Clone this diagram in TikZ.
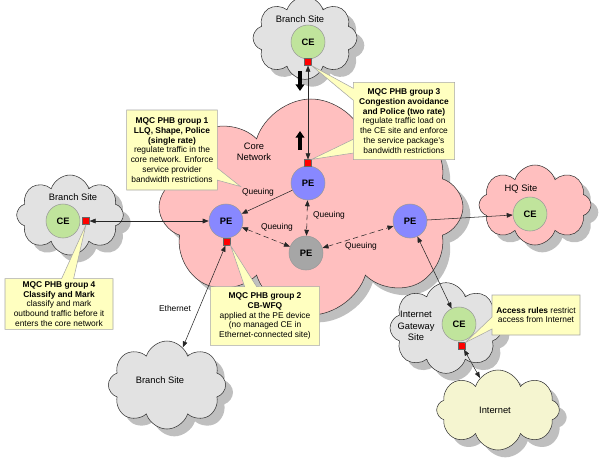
\documentclass[tikz,border=0pt]{standalone}
\usepackage{fontspec}
\setmainfont{Liberation Sans}
\usetikzlibrary{shapes.symbols,shapes.callouts,shadows,arrows.meta}

\definecolor{corepink}{RGB}{255,191,191}
\definecolor{sitegrey}{RGB}{226,226,226}
\definecolor{inetyellow}{RGB}{245,245,208}
\definecolor{noteyellow}{RGB}{255,255,192}
\definecolor{pefill}{RGB}{136,136,255}
\definecolor{cefill}{RGB}{192,228,156}

\tikzset{
  site/.style={cloud, cloud puffs=8, cloud puff arc=145, cloud ignores aspect,
    draw=black!80, fill=sitegrey, inner sep=0pt,
    drop shadow={shadow xshift=5.5pt, shadow yshift=-5.5pt, fill=black!25, opacity=1}},
  pe/.style={circle, draw=black!40, fill=pefill, minimum size=25.5pt,
    inner sep=0pt, font=\fontsize{7}{8}\selectfont\bfseries},
  ce/.style={pe, fill=cefill},
  port/.style={rectangle, draw=black!60, fill=red, minimum size=5pt, inner sep=0pt},
  link/.style={draw=black!85, thin, >={Triangle[length=4.5pt,width=3.5pt]}},
  qlink/.style={link, dash pattern=on 4pt off 2.5pt},
  note/.style={rectangle callout, draw=black!35, fill=noteyellow, align=center,
    inner sep=2pt, callout pointer width=9pt, font=\fontsize{6.3}{7.4}\selectfont},
  lbl/.style={font=\fontsize{7}{8.4}\selectfont, inner sep=1pt, align=center},
  qlbl/.style={font=\fontsize{6.3}{7.4}\selectfont, inner sep=1pt},
  bigarrow/.style={line width=2.4pt, -{Triangle[length=5pt,width=6.5pt]}},
}

\begin{document}
\begin{tikzpicture}[x=0.75pt, y=-0.75pt]
  \useasboundingbox (0,0) rectangle (600,462);

  % sites and core
  \node[site, fill=corepink, minimum width=228pt,
    minimum height=162pt] (core) at (311,207) {};
  \node[site, minimum width=78pt, minimum height=62pt] (topsite) at (305,38) {};
  \node[site, minimum width=80pt, minimum height=60pt] (leftsite) at (70,215) {};
  \node[site, fill=corepink, minimum width=84pt, minimum height=60pt] (hqsite) at (535,205) {};
  \node[site, minimum width=84pt, minimum height=68pt] (igwsite) at (446,328) {};
  \node[site, fill=inetyellow, minimum width=92pt, minimum height=60pt] (inet) at (498,410) {};
  \node[site, minimum width=88pt, minimum height=66pt] (botsite) at (167,385) {};

  \node[lbl] (toplbl) at (300,19) {Branch Site};
  \node[lbl] (leftlbl) at (73,197) {Branch Site};
  \node[lbl] (hqlbl) at (521,189) {HQ Site};
  \node[lbl] (igwlbl) at (416,326) {Internet\\Gateway\\Site};
  \node[lbl] (inetlbl) at (495,410) {Internet};
  \node[lbl] (botlbl) at (160,380) {Branch Site};
  \node[lbl] (corelbl) at (254,152) {Core\\Network};

  % routers
  \node[ce] (cetop) at (308,42) {CE};
  \node[ce] (celeft) at (63,221) {CE};
  \node[ce] (cehq) at (530,214) {CE};
  \node[ce] (ceigw) at (459,324) {CE};

  \node[pe] (pe1) at (308,183) {PE};
  \node[pe] (pe2) at (226,221) {PE};
  \node[pe, fill=black!35] (pe3) at (306,253) {PE};
  \node[pe] (pe4) at (410,221) {PE};

  \node[port] (sqtop) at (308,62) {};
  \node[port] (sqpe1) at (308,163) {};
  \node[port] (sqleft) at (86,221) {};
  \node[port] (sqpe2) at (227,242) {};
  \node[port] (sqigw) at (462,346) {};

  % links
  \draw[link,<->] (sqtop) -- (sqpe1);
  \draw[link,->] (pe1) -- (pe2);
  \draw[link,<->] (sqleft) -- (pe2);
  \draw[qlink,<->] (pe2) -- (pe3);
  \draw[qlink,<->] (pe1) -- (pe3);
  \draw[qlink,<->] (pe3) -- (pe4);
  \draw[link,->] (pe4) -- (cehq);
  \draw[link,<->] (pe4) -- (ceigw);
  \draw[link,<->] (sqigw) -- (inet);
  \draw[link,<->] (sqpe2) -- (botsite);

  \node[qlbl] (q1) at (258,192) {Queuing};
  \node[qlbl] (q2) at (277,227) {Queuing};
  \node[qlbl] (q3) at (329,215) {Queuing};
  \node[qlbl] (q4) at (361,246) {Queuing};
  \node[qlbl] (eth) at (175,308) {Ethernet};

  \draw[bigarrow] (300,71) -- (300,91);
  \draw[bigarrow] (300,150) -- (300,131);

  % notes
  \node[note, minimum width=68pt, minimum height=60pt,
    callout absolute pointer={(q1.north west)}] (g1) at (172,150)
    {\textbf{MQC PHB group 1}\\\textbf{LLQ, Shape, Police}\\\textbf{(single rate)}\\
     regulate traffic in the\\core network. Enforce\\service provider\\bandwidth restrictions};

  \coordinate (g3a) at (360,136);
  \coordinate (g3b) at (360,152);
  \filldraw[draw=black!35, fill=noteyellow] (g3a) -- (sqpe1.north east) -- (g3b) -- cycle;
  \node[note, minimum width=76pt, minimum height=58pt,
    callout absolute pointer={(sqtop.south east)}] (g3) at (404,121)
    {\textbf{MQC PHB group 3}\\\textbf{Congestion avoidance}\\\textbf{and Police (two rate)}\\
     regulate traffic load on\\the CE site and enforce\\the service package's\\bandwidth restrictions};

  \node[note, minimum width=81pt, minimum height=38pt,
    callout absolute pointer={(sqleft.south)}] (g4) at (59,304)
    {\textbf{MQC PHB group 4}\\\textbf{Classify and Mark}\\
     classify and mark\\outbound traffic before it\\enters the core network};

  \node[note, minimum width=82pt, minimum height=44pt,
    callout absolute pointer={(sqpe2.south east)}] (g2) at (265,316)
    {\textbf{MQC PHB group 2}\\\textbf{CB-WFQ}\\
     applied at the PE device\\(no managed CE in\\Ethernet-connected site)};

  \node[note, minimum width=66pt, minimum height=30pt,
    callout absolute pointer={(sqigw.north east)}] (g5) at (536,315)
    {\textbf{Access rules} restrict\\access from Internet};
\end{tikzpicture}
\end{document}
